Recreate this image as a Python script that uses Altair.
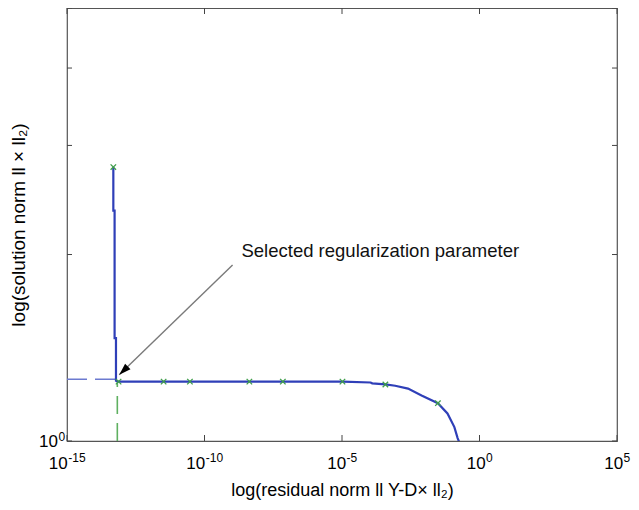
import altair as alt
import pandas as pd

# ---- data ----
curve_x = [4.84e-14, 4.84e-14, 5.38e-14, 5.38e-14, 6.04e-14, 6.04e-14, 7.50e-14,
           1.04e-5, 1.09e-4, 1.26e-4, 3.78e-4, 8.61e-4, 2.52e-3, 7.80e-3,
           3.07e-2, 6.84e-2, 0.122, 0.160, 0.184]
curve_y = [2.768, 2.354, 2.354, 1.466, 1.466, 1.251, 1.247,
           1.247, 1.243, 1.239, 1.234, 1.228, 1.215, 1.184,
           1.151, 1.108, 1.053, 1.011, 0.995]

marker_x = [4.84e-14, 7.50e-14, 3.26e-12, 2.95e-11, 4.28e-9, 7.06e-8, 1.04e-5, 3.78e-4, 3.07e-2]
marker_y = [2.768, 1.247, 1.247, 1.247, 1.247, 1.247, 1.247, 1.234, 1.151]

corner_x = 6.76e-14
corner_y = 1.258
corner_y_low = 1.247

arrow_x = [1.05e-9, 7.94e-14]
arrow_y = [1.923, 1.279]

note_text = "Selected regularization parameter"
note_x = 2.21e-9
note_y = 1.981

x_ticks = [1e-15, 1e-10, 1e-5, 1, 1e5]
x_tick_base = ["10", "10", "10", "10", "10"]
x_tick_exp = ["-15", "-10", "-5", "0", "5"]
y_ticks = [1, 2, 3, 4, 5]
y_label_value = 1
y_label_base = "10"
y_label_exp = "0"

x_title = "log(residual norm ll Y-D× ll₂)"
y_title = "log(solution norm ll × ll₂)"

# ---- chart ----
W, H = 550, 433
FONT = "Liberation Sans"
BLUE = "#2f3fb8"
GREEN = "#3f9e4a"
BASE_FS, EXP_FS = 17, 12

xscale = alt.Scale(type="log", domain=[1e-15, 1e5], nice=False)
yscale = alt.Scale(type="log", domain=[1, 5], nice=False)

xaxis = alt.Axis(labels=False, ticks=False, domain=False, grid=False,
                 title=x_title, titleFont=FONT, titleFontSize=18, titleFontWeight="normal",
                 titleColor="black", titleX=W / 2, titleY=54, titleAlign="center",
                 titleBaseline="alphabetic")
yaxis = alt.Axis(labels=False, ticks=False, domain=False, grid=False,
                 title=y_title, titleFont=FONT, titleFontSize=19, titleFontWeight="normal",
                 titleColor="black", titleX=-49, titleY=H / 2, titleAlign="center",
                 titleBaseline="middle", titleAngle=270)


def X(f):
    return alt.X(f"{f}:Q", scale=xscale, axis=xaxis)


def Y(f):
    return alt.Y(f"{f}:Q", scale=yscale, axis=yaxis)


curve_df = pd.DataFrame({"x": curve_x, "y": curve_y, "i": range(len(curve_x))})
marker_df = pd.DataFrame({"x": marker_x, "y": marker_y})
hdash_df = pd.DataFrame({"x": [1e-15, corner_x], "y": [corner_y, corner_y]})
vdash_df = pd.DataFrame({"x": [corner_x, corner_x], "y": [1.0, corner_y_low]})
arrow_df = pd.DataFrame({"x": arrow_x, "y": arrow_y, "i": [0, 1]})
tip_df = pd.DataFrame({"x": [arrow_x[1]], "y": [arrow_y[1]]})
note_df = pd.DataFrame({"x": [note_x], "y": [note_y], "t": [note_text]})
xt_df = pd.DataFrame({"x": x_ticks})
yt_df = pd.DataFrame({"y": y_ticks})

hdash = alt.Chart(hdash_df).mark_line(color="#6c7ad0", strokeWidth=1.6, strokeDash=[20, 8]).encode(
    x=X("x"), y=Y("y"))
vdash = alt.Chart(vdash_df).mark_line(color="#5fb060", strokeWidth=1.6, strokeDash=[18, 9]).encode(
    x=X("x"), y=Y("y"))
curve = alt.Chart(curve_df).mark_line(color=BLUE, strokeWidth=2.2, clip=True).encode(
    x=X("x"), y=Y("y"), order="i:Q")
markers = alt.Chart(marker_df).mark_point(
    shape="M-1,-1L1,1M-1,1L1,-1", filled=False, color=GREEN, size=30, strokeWidth=1.3, opacity=1
).encode(x=X("x"), y=Y("y"))
arrow = alt.Chart(arrow_df).mark_line(color="#7a7a7a", strokeWidth=1.4).encode(
    x=X("x"), y=Y("y"), order="i:Q")
tip = alt.Chart(tip_df).mark_point(
    shape="M0,0L1.1,3.4L-1.1,3.4Z", filled=True, color="black", size=49, angle=226, opacity=1
).encode(x=X("x"), y=Y("y"))
note = alt.Chart(note_df).mark_text(
    align="left", baseline="alphabetic", font=FONT, fontSize=18.5, color="#111"
).encode(x=X("x"), y=Y("y"), text="t:N")

tick_style = dict(color="#444", strokeWidth=1)
xt_bot = alt.Chart(xt_df).mark_rule(**tick_style).encode(x=X("x"), y=alt.value(H), y2=alt.value(H - 6))
xt_top = alt.Chart(xt_df).mark_rule(**tick_style).encode(x=X("x"), y=alt.value(0), y2=alt.value(6))
yt_left = alt.Chart(yt_df).mark_rule(**tick_style).encode(y=Y("y"), x=alt.value(0), x2=alt.value(5))
yt_right = alt.Chart(yt_df).mark_rule(**tick_style).encode(y=Y("y"), x=alt.value(W), x2=alt.value(W - 5))

# tick labels: "10" with a raised exponent
def text_w(s, fs):
    w = {"-": 0.333}
    return sum(w.get(c, 0.556) for c in s) * fs

label_layers = []
for v, b, e in zip(x_ticks, x_tick_base, x_tick_exp):
    total = text_w(b, BASE_FS) + text_w(e, EXP_FS)
    base_right = -total / 2 + text_w(b, BASE_FS)
    d = pd.DataFrame({"x": [v], "b": [b], "e": [e]})
    label_layers.append(alt.Chart(d).mark_text(
        align="right", baseline="alphabetic", font=FONT, fontSize=BASE_FS, color="black",
        dx=base_right).encode(x=X("x"), y=alt.value(H + 28), text="b:N"))
    label_layers.append(alt.Chart(d).mark_text(
        align="left", baseline="alphabetic", font=FONT, fontSize=EXP_FS, color="black",
        dx=base_right + 0.5).encode(x=X("x"), y=alt.value(H + 21), text="e:N"))

yl_df = pd.DataFrame({"y": [y_label_value], "b": [y_label_base], "e": [y_label_exp]})
label_layers.append(alt.Chart(yl_df).mark_text(
    align="right", baseline="alphabetic", font=FONT, fontSize=BASE_FS, color="black"
).encode(y=Y("y"), x=alt.value(-9), text="b:N", yOffset=alt.value(6)))
label_layers.append(alt.Chart(yl_df).mark_text(
    align="left", baseline="alphabetic", font=FONT, fontSize=EXP_FS, color="black"
).encode(y=Y("y"), x=alt.value(-8.5), text="e:N", yOffset=alt.value(0)))

chart = alt.layer(
    hdash, vdash, curve, markers, arrow, tip, note, xt_bot, xt_top, yt_left, yt_right,
    *label_layers
).properties(
    width=W, height=H,
    autosize=alt.AutoSizeParams(type="none"),
    padding={"left": 59, "top": 0, "right": 14, "bottom": 61},
    background="white",
).configure_view(stroke="#555", strokeWidth=1.2)

chart.save("out.html", embed_options={"renderer": "svg", "actions": False})
